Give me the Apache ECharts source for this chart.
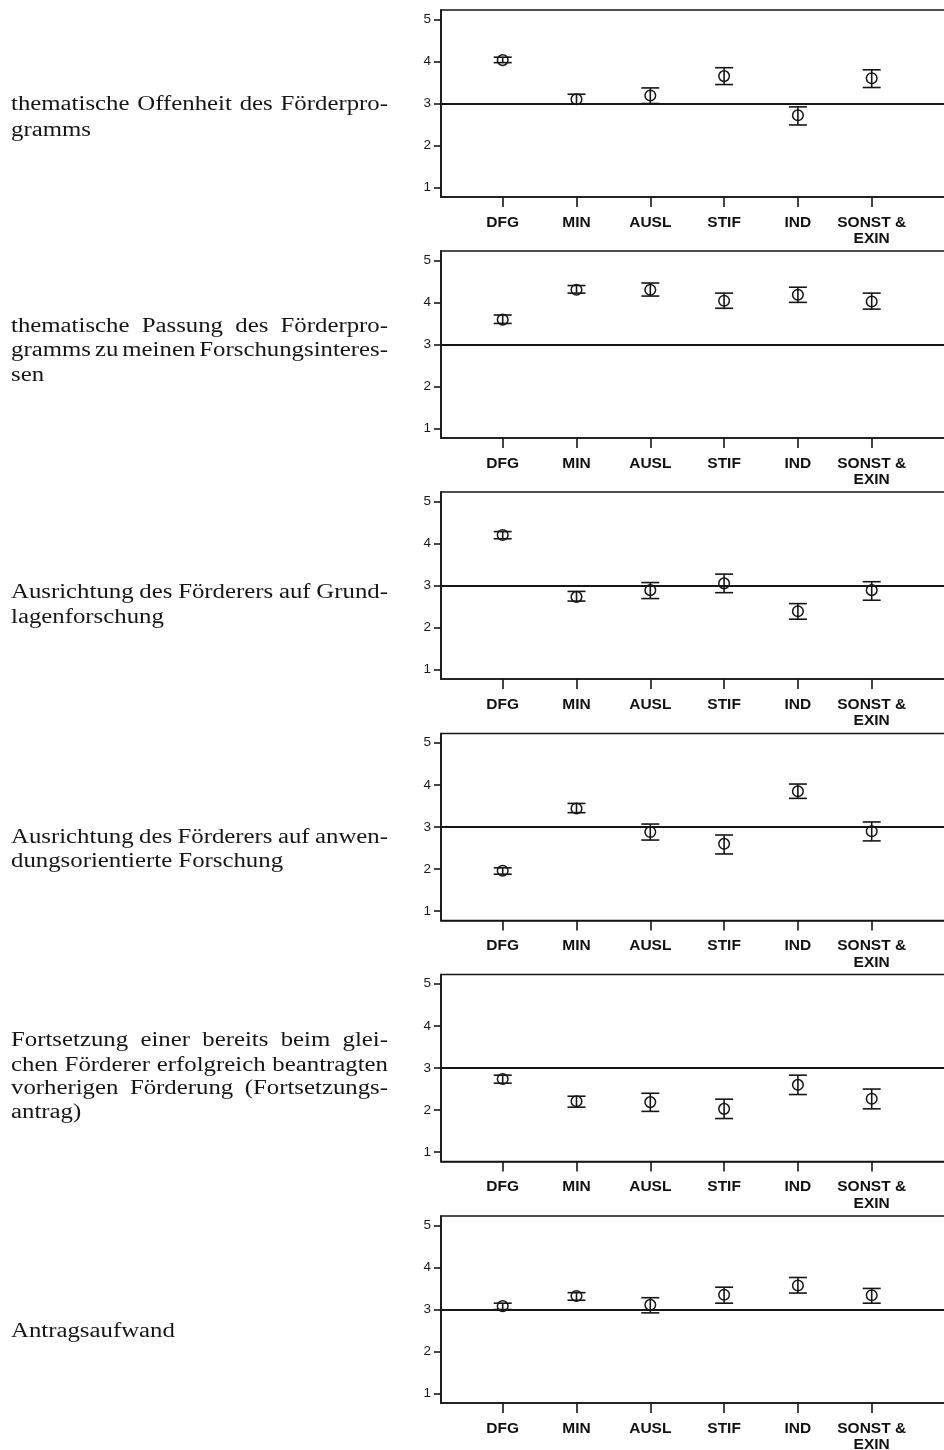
<!DOCTYPE html>
<html><head><meta charset="utf-8">
<script src="https://cdn.jsdelivr.net/npm/echarts@6/dist/echarts.min.js"></script>
<style>html,body{margin:0;padding:0;background:#fff}#c{width:944px;height:1450px}</style>
</head><body><div id="c"></div><script>
// ---------- data ----------
const categories = ['DFG', 'MIN', 'AUSL', 'STIF', 'IND', 'SONST &\nEXIN'];
const yTicks = [1, 2, 3, 4, 5];
const referenceValue = 3;

const labelOffenheit = ['thematische Offenheit des Förderpro-', 'gramms'];
const labelPassung = ['thematische Passung des Förderpro-', 'gramms zu meinen Forschungsinteres-', 'sen'];
const labelGrundlagen = ['Ausrichtung des Förderers auf Grund-', 'lagenforschung'];
const labelAnwendung = ['Ausrichtung des Förderers auf anwen-', 'dungsorientierte Forschung'];
const labelFortsetzung = ['Fortsetzung einer bereits beim glei-', 'chen Förderer erfolgreich beantragten', 'vorherigen Förderung (Fortsetzungs-', 'antrag)'];
const labelAufwand = ['Antragsaufwand'];

const meanOffenheit = [4.03, 3.10, 3.19, 3.65, 2.72, 3.60];
const lowOffenheit  = [3.97, 2.99, 3.00, 3.45, 2.49, 3.38];
const highOffenheit = [4.10, 3.22, 3.37, 3.85, 2.92, 3.80];

const meanPassung = [3.59, 4.30, 4.30, 4.04, 4.18, 4.02];
const lowPassung  = [3.50, 4.22, 4.15, 3.86, 4.00, 3.84];
const highPassung = [3.70, 4.40, 4.46, 4.22, 4.36, 4.22];

const meanGrundlagen = [4.20, 2.73, 2.89, 3.05, 2.39, 2.89];
const lowGrundlagen  = [4.11, 2.63, 2.69, 2.83, 2.20, 2.65];
const highGrundlagen = [4.28, 2.86, 3.07, 3.27, 2.57, 3.09];

const meanAnwendung = [1.96, 3.44, 2.88, 2.60, 3.85, 2.90];
const lowAnwendung  = [1.88, 3.34, 2.69, 2.36, 3.68, 2.67];
const highAnwendung = [2.03, 3.56, 3.07, 2.81, 4.02, 3.12];

const meanFortsetzung = [2.74, 2.21, 2.19, 2.03, 2.60, 2.27];
const lowFortsetzung  = [2.64, 2.07, 1.97, 1.80, 2.37, 2.03];
const highFortsetzung = [2.83, 2.33, 2.40, 2.26, 2.83, 2.50];

const meanAufwand = [3.08, 3.32, 3.11, 3.35, 3.57, 3.34];
const lowAufwand  = [3.00, 3.22, 2.92, 3.15, 3.39, 3.15];
const highAufwand = [3.15, 3.40, 3.28, 3.53, 3.76, 3.50];

// ---------- layout ----------
const panels = [
  {label: labelOffenheit, mean: meanOffenheit, low: lowOffenheit, high: highOffenheit, top: 10, baselines: [111, 137]},
  {label: labelPassung, mean: meanPassung, low: lowPassung, high: highPassung, top: 251, baselines: [333, 357, 382]},
  {label: labelGrundlagen, mean: meanGrundlagen, low: lowGrundlagen, high: highGrundlagen, top: 492, baselines: [599, 624]},
  {label: labelAnwendung, mean: meanAnwendung, low: lowAnwendung, high: highAnwendung, top: 733.5, baselines: [844, 868]},
  {label: labelFortsetzung, mean: meanFortsetzung, low: lowFortsetzung, high: highFortsetzung, top: 974.5, baselines: [1047, 1072, 1095, 1119]},
  {label: labelAufwand, mean: meanAufwand, low: lowAufwand, high: highAufwand, top: 1216, baselines: [1338]}
];
const INK = '#161616';
const catIdx = categories.map((c, i) => i);

function renderErr(params, api) {
  const x = api.value(0);
  const pm = api.coord([x, api.value(1)]);
  const pl = api.coord([x, api.value(2)]);
  const ph = api.coord([x, api.value(3)]);
  const hw = 9, r = 5.3;
  const ls = {stroke: INK, lineWidth: 1.6, fill: null};
  return {type: 'group', children: [
    {type: 'line', shape: {x1: pm[0], y1: ph[1], x2: pm[0], y2: pl[1]}, style: ls},
    {type: 'line', shape: {x1: pm[0] - hw, y1: ph[1], x2: pm[0] + hw, y2: ph[1]}, style: ls},
    {type: 'line', shape: {x1: pm[0] - hw, y1: pl[1], x2: pm[0] + hw, y2: pl[1]}, style: ls},
    {type: 'circle', shape: {cx: pm[0], cy: pm[1], r: r}, style: {stroke: INK, lineWidth: 1.5, fill: 'none'}}
  ]};
}

// justified serif text labels (per-word placement)
const FS = 20, FONT = FS + 'px "Liberation Serif"', SX = 1.24;
const TX0 = 11, TX1 = 388;
const mctx = document.createElement('canvas').getContext('2d');
mctx.font = FONT;
const graphics = [];
panels.forEach(p => {
  p.label.forEach((line, li) => {
    const words = line.split(' ');
    const widths = words.map(w => mctx.measureText(w).width * SX);
    const isLast = li === p.label.length - 1;
    let gap = mctx.measureText(' ').width * SX;
    if (!isLast && words.length > 1) {
      const tot = widths.reduce((a, b) => a + b, 0);
      gap = (TX1 - TX0 - tot) / (words.length - 1);
    }
    let x = TX0;
    words.forEach((w, wi) => {
      graphics.push({type: 'text', x: x, y: p.baselines[li] - 6.5, scaleX: SX, silent: true,
        style: {text: w, x: 0, y: 0, font: FONT, fill: '#161616', textAlign: 'left', textVerticalAlign: 'middle', verticalAlign: 'middle'}});
      x += widths[wi] + gap;
    });
  });
});

const option = {
  animation: false,
  backgroundColor: '#fff',
  grid: panels.map(p => ({left: 441, top: p.top, width: 520, height: 187, show: true,
    borderColor: INK, borderWidth: 1.6, backgroundColor: 'transparent', containLabel: false, outerBoundsMode: 'none'})),
  xAxis: panels.map((p, i) => ({
    gridIndex: i, type: 'value', min: -0.836, max: 6.21, position: 'bottom',
    axisLine: {show: true, onZero: false, lineStyle: {color: INK, width: 1.6}},
    axisTick: {show: true, length: 10, customValues: catIdx, lineStyle: {color: INK, width: 1.6}},
    axisLabel: {customValues: catIdx, formatter: v => categories[Math.round(v)], fontFamily: '"Liberation Sans", Arial',
      fontWeight: 'bold', fontSize: 15.5, lineHeight: 16.5, margin: 17, color: '#111'},
    splitLine: {show: false}
  })),
  yAxis: panels.map((p, i) => ({
    gridIndex: i, type: 'value', min: 0.78, max: 5.22, position: 'left',
    axisLine: {show: true, onZero: false, lineStyle: {color: INK, width: 1.6}},
    axisTick: {show: true, length: 7, customValues: yTicks, lineStyle: {color: INK, width: 1.6}},
    axisLabel: {customValues: yTicks, margin: 10, fontSize: 13.5, color: '#1a1a1a', fontFamily: '"Liberation Sans", Arial'},
    splitLine: {show: false}
  })),
  series: panels.map((p, i) => ({
    type: 'custom', xAxisIndex: i, yAxisIndex: i, renderItem: renderErr,
    data: categories.map((c, k) => [k, p.mean[k], p.low[k], p.high[k]]),
    markLine: {silent: true, symbol: 'none', label: {show: false},
      lineStyle: {color: INK, width: 1.8, type: 'solid'}, data: [{yAxis: referenceValue}]}
  })),
  graphic: graphics
};
const chart = echarts.init(document.getElementById('c'), null, {renderer: 'canvas'});
chart.setOption(option);
</script></body></html>
